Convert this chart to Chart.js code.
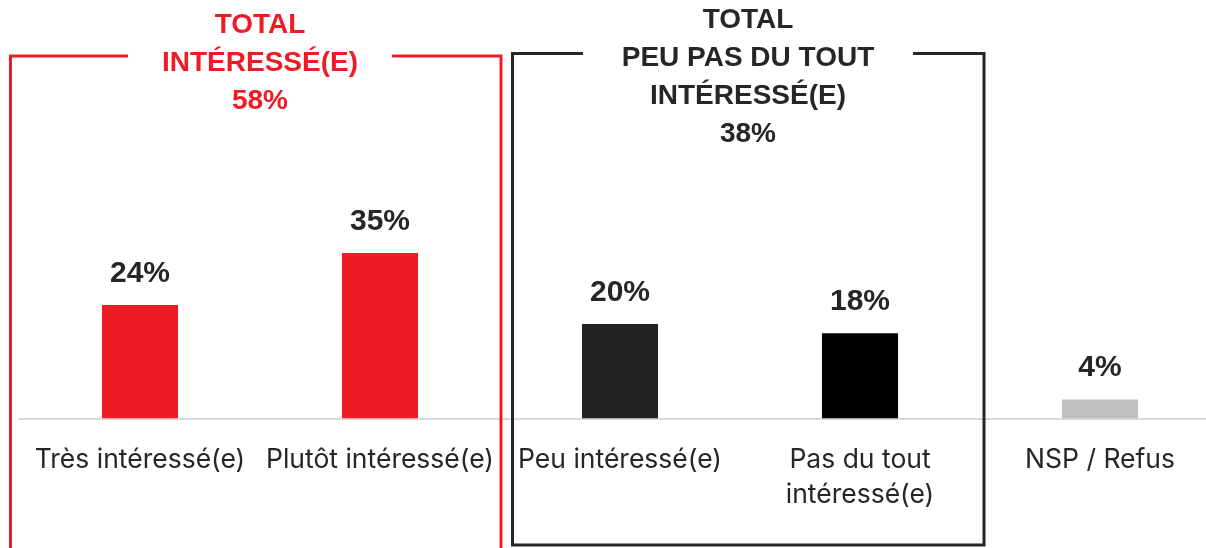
<!DOCTYPE html>
<html>
<head>
<meta charset="utf-8">
<script src="https://cdn.jsdelivr.net/npm/chart.js@4.4.1/dist/chart.umd.min.js"></script>
<style>
html,body{margin:0;padding:0;background:#fff;overflow:hidden;}
#wrap{position:absolute;left:0;top:0;width:1220px;height:548px;}
</style>
</head>
<body>
<div id="wrap"><canvas id="c"></canvas></div>
<script>
const categories = ["Très intéressé(e)", "Plutôt intéressé(e)", "Peu intéressé(e)", ["Pas du tout", "intéressé(e)"], "NSP / Refus"];
const values = [24, 35, 20, 18, 4];
const barColors = ["#ED1C24", "#ED1C24", "#222222", "#000000", "#BFBFBF"];
const groupTitles = [["TOTAL", "INTÉRESSÉ(E)"], ["TOTAL", "PEU PAS DU TOUT", "INTÉRESSÉ(E)"]];
const groupTotals = ["58%", "38%"];
const groupColors = ["#ED1C24", "#262626"];

const boxPlugin = {
  id: 'boxes',
  afterDraw(chart) {
    const ctx = chart.ctx;
    const x = chart.scales.x;
    const H = chart.height;
    ctx.save();
    const r = {l: x.getPixelForValue(0) - 129.5, r: x.getPixelForValue(1) + 121, t: 56, b: H + 10, gl: 128, gr: 392};
    const b = {l: x.getPixelForValue(2) - 107.5, r: x.getPixelForValue(3) + 124, t: 53.5, b: 545, gl: 583, gr: 913};
    const boxes = [[r, groupColors[0]], [b, groupColors[1]]];
    boxes.forEach(([bx, col]) => {
      ctx.strokeStyle = col;
      ctx.lineWidth = 3;
      ctx.beginPath();
      ctx.moveTo(bx.gl, bx.t);
      ctx.lineTo(bx.l, bx.t);
      ctx.lineTo(bx.l, bx.b);
      ctx.lineTo(bx.r, bx.b);
      ctx.lineTo(bx.r, bx.t);
      ctx.lineTo(bx.gr, bx.t);
      ctx.stroke();
    });
    ctx.textAlign = 'center';
    ctx.textBaseline = 'middle';
    ctx.font = "bold 28px 'Liberation Sans', Arial, sans-serif";
    const centers = [[(r.gl + r.gr) / 2, 25], [(b.gl + b.gr) / 2, 20]];
    groupTitles.forEach((lines, i) => {
      ctx.fillStyle = groupColors[i];
      const all = lines.concat([groupTotals[i]]);
      all.forEach((t, j) => ctx.fillText(t, centers[i][0], centers[i][1] + j * 38));
    });
    ctx.font = "bold 30px 'Liberation Sans', Arial, sans-serif";
    const meta = chart.getDatasetMeta(0);
    ctx.fillStyle = '#262626';
    meta.data.forEach((el, i) => {
      ctx.fillText(values[i] + '%', el.x, el.y - 31.5);
    });
    ctx.restore();
  }
};

new Chart(document.getElementById('c'), {
  type: 'bar',
  data: {
    labels: categories,
    datasets: [{
      data: values,
      backgroundColor: barColors,
      categoryPercentage: 1,
      barPercentage: 0.317
    }]
  },
  options: {
    responsive: true,
    maintainAspectRatio: false,
    animation: false,
    layout: {padding: {left: 20, right: 0, top: 40, bottom: 11}},
    plugins: {legend: {display: false}, tooltip: {enabled: false}},
    scales: {
      x: {
        grid: {display: false, drawTicks: false},
        border: {display: true, color: '#D9D9D9', width: 2},
        ticks: {
          color: '#262626',
          padding: 24,
          maxRotation: 0,
          autoSkip: false,
          font: {family: "Inter, 'Open Sans', sans-serif", size: 26.5, lineHeight: 1.33}
        }
      },
      y: {
        display: false,
        min: 0,
        max: 80
      }
    }
  },
  plugins: [boxPlugin]
});
</script>
</body>
</html>
